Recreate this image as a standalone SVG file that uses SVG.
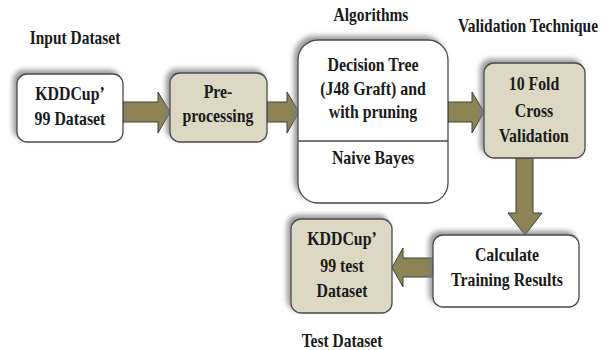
<svg xmlns="http://www.w3.org/2000/svg" width="614" height="350" viewBox="0 0 614 350">
<defs>
<filter id="sh" x="-20%" y="-20%" width="140%" height="140%">
<feDropShadow dx="-3.5" dy="-3.5" stdDeviation="2.5" flood-color="#7a7a7a" flood-opacity="0.75"/>
</filter>
<style>
.box{stroke:#4a4a4a;stroke-width:1.3;filter:url(#sh)}
.w{fill:#ffffff}
.b{fill:#dcd8c4}
.arr{fill:#8c8454;stroke:#3e3e36;stroke-width:1}
text{font-family:"Liberation Serif","Times New Roman",serif;font-weight:bold;font-size:18px;fill:#1a1a1a;text-anchor:middle}
</style>
</defs>
<rect width="614" height="350" fill="#ffffff"/>
<g id="connectors">
<path class="arr" d="M123,102 H158 V92 L170,112 L158,133 V122 H123 Z"/>
<path class="arr" d="M267,102 H287 V92 L299,112 L287,133 V122 H267 Z"/>
<path class="arr" d="M448,102 H472 V92 L484,112 L472,133 V122 H448 Z"/>
<path class="arr" d="M516,158 H533 V213 H542 L525,235 L508,213 H516 Z"/>
<path class="arr" d="M433,258 H403 V248 L392,267.5 L403,287 V277 H433 Z"/>
</g>
<g id="input-dataset-label">
<text transform="translate(75,44) scale(0.86,1.08)">Input Dataset</text>
</g>
<g id="algorithms-label">
<text transform="translate(371,21) scale(0.86,1.08)">Algorithms</text>
</g>
<g id="validation-label">
<text transform="translate(528,32) scale(0.86,1.08)">Validation Technique</text>
</g>
<g id="test-dataset-label">
<text transform="translate(342,347) scale(0.86,1.08)">Test Dataset</text>
</g>
<g id="kddcup-train">
<rect class="box w" x="17" y="74" width="106" height="68" rx="10"/>
<text transform="translate(70,100) scale(0.88,1.08)">KDDCup’</text>
<text transform="translate(70,125) scale(0.88,1.08)">99 Dataset</text>
</g>
<g id="preprocessing">
<rect class="box b" x="170" y="73" width="97" height="69" rx="10"/>
<text transform="translate(218,98) scale(0.88,1.08)">Pre-</text>
<text transform="translate(218,122) scale(0.88,1.08)">processing</text>
</g>
<g id="algorithms">
<rect class="box w" x="298" y="40" width="150" height="163" rx="20"/>
<line x1="298" y1="141" x2="448" y2="141" stroke="#4a4a4a" stroke-width="1.3"/>
<text transform="translate(373,71) scale(0.88,1.08)">Decision Tree</text>
<text transform="translate(373,95) scale(0.88,1.08)">(J48 Graft) and</text>
<text transform="translate(373,118) scale(0.88,1.08)">with pruning</text>
<text transform="translate(373,164) scale(0.88,1.08)">Naive Bayes</text>
</g>
<g id="cross-validation">
<rect class="box b" x="484" y="63" width="101" height="95" rx="10"/>
<text transform="translate(534,90) scale(0.88,1.08)">10 Fold</text>
<text transform="translate(534,117) scale(0.88,1.08)">Cross</text>
<text transform="translate(534,142) scale(0.88,1.08)">Validation</text>
</g>
<g id="calculate-results">
<rect class="box w" x="433" y="235" width="146" height="72" rx="10"/>
<text transform="translate(507,261) scale(0.88,1.08)">Calculate</text>
<text transform="translate(507,286) scale(0.88,1.08)">Training Results</text>
</g>
<g id="kddcup-test">
<rect class="box b" x="291" y="219" width="101" height="94" rx="10"/>
<text transform="translate(342,245) scale(0.88,1.08)">KDDCup’</text>
<text transform="translate(342,272) scale(0.88,1.08)">99 test</text>
<text transform="translate(342,297) scale(0.88,1.08)">Dataset</text>
</g>
</svg>
